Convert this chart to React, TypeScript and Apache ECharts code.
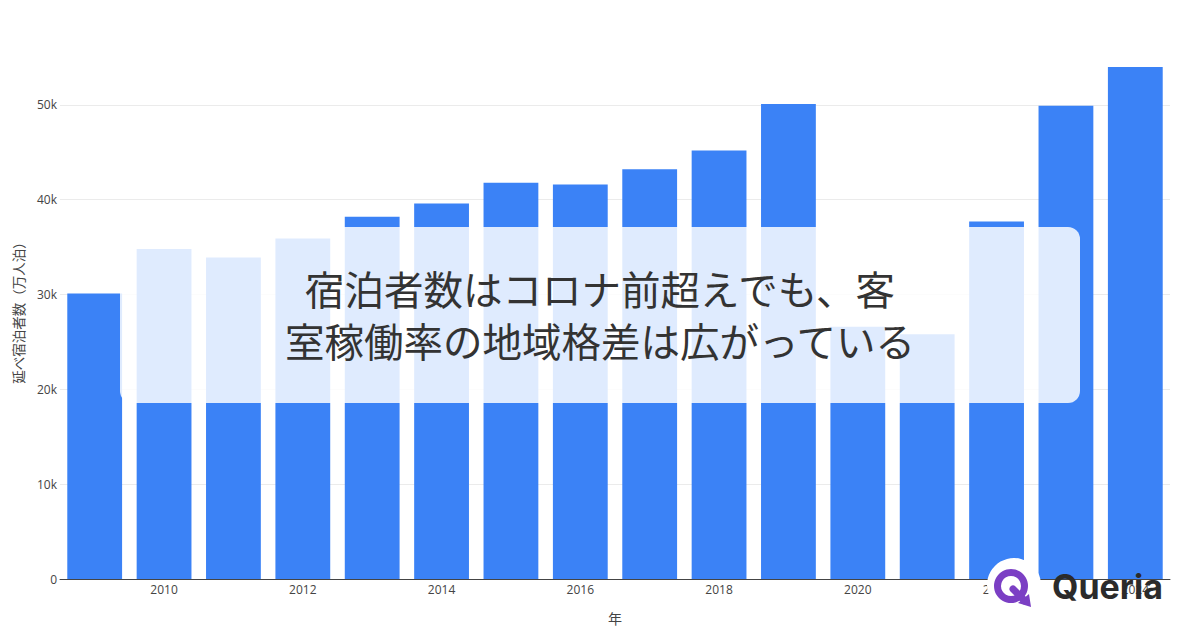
import React, { useEffect, useRef } from "react";
import * as echarts from "echarts";

const years = ["2009","2010","2011","2012","2013","2014","2015","2016","2017","2018","2019","2020","2021","2022","2023","2024"];
const stays = [30100, 34800, 33900, 35900, 38200, 39600, 41800, 41600, 43200, 45200, 50100, 26600, 25800, 37700, 49900, 54000];
const yTicks = [0, 10000, 20000, 30000, 40000, 50000];
const titleLines = ["宿泊者数はコロナ前超えでも、客", "室稼働率の地域格差は広がっている"];
const yName = "延べ宿泊者数（万人泊）";
const xName = "年";
const brand = "Queria";

export default function App() {
  const ref = useRef<HTMLDivElement>(null);
  useEffect(() => {
    if (!ref.current) return;
    const chart = echarts.init(ref.current, null, { renderer: "svg" });
    const yMax = 56842;
    const gridColors = yTicks.map(() => "#ebebeb").concat(["rgba(0,0,0,0)"]);
    chart.setOption({
      animation: false,
      backgroundColor: "#ffffff",
      textStyle: { fontFamily: "'Open Sans', 'Noto Sans CJK JP', sans-serif" },
      grid: { left: 60, right: 30, top: 40, bottom: 50, containLabel: false },
      xAxis: {
        type: "category",
        data: years,
        name: xName,
        nameLocation: "middle",
        nameGap: 32,
        nameTextStyle: { color: "#444", fontSize: 14, fontFamily: "'Noto Sans CJK JP', sans-serif" },
        axisLine: { show: true, lineStyle: { color: "#444", width: 1 } },
        axisTick: { show: false },
        axisLabel: {
          color: "#444",
          fontSize: 12,
          margin: 4,
          interval: (i: number) => i % 2 === 1,
        },
      },
      yAxis: {
        type: "value",
        min: 0,
        max: yMax,
        interval: 10000,
        name: yName,
        nameLocation: "middle",
        nameGap: 35,
        nameTextStyle: { color: "#444", fontSize: 13.5, fontFamily: "'Noto Sans CJK JP', sans-serif" },
        axisLine: { show: false },
        axisTick: { show: false },
        axisLabel: {
          color: "#444",
          fontSize: 12,
          margin: 3,
          showMaxLabel: false,
          formatter: (v: number) => (v % 10000 !== 0 ? "" : v === 0 ? "0" : v / 1000 + "k"),
        },
        splitLine: { show: true, lineStyle: { color: gridColors, width: 1 } },
      },
      series: [
        {
          type: "bar",
          data: stays,
          barCategoryGap: "21%",
          itemStyle: { color: "#3b82f6" },
        },
      ],
      graphic: [
        {
          type: "rect",
          z: 100,
          shape: { x: 120, y: 227, width: 960, height: 176, r: 12 },
          style: { fill: "rgba(255,255,255,0.84)" },
        },
        {
          type: "text",
          z: 101,
          x: 600,
          y: 313,
          style: {
            text: titleLines.join("\n"),
            fill: "#333333",
            font: "400 39.5px 'Noto Sans CJK JP', sans-serif",
            lineHeight: 52,
            align: "center",
            verticalAlign: "middle",
          },
        },
        {
          type: "circle",
          z: 100,
          shape: { cx: 1014, cy: 585, r: 27 },
          style: { fill: "#ffffff" },
        },
        {
          type: "ring",
          z: 101,
          shape: { cx: 1011, cy: 586, r: 17, r0: 10 },
          style: { fill: "#7b3fc4" },
        },
        {
          type: "line",
          z: 101,
          shape: { x1: 1013, y1: 589, x2: 1025, y2: 601 },
          style: { stroke: "#7b3fc4", lineWidth: 7, lineCap: "round" },
        },
        {
          type: "polygon",
          z: 101,
          shape: { points: [[1018, 603], [1031, 607], [1029, 594]] },
          style: { fill: "#7b3fc4" },
        },
        {
          type: "text",
          z: 101,
          x: 1052,
          y: 586,
          style: {
            text: brand,
            fill: "#2b2b2b",
            font: "bold 34px Inter, 'Open Sans', sans-serif",
            verticalAlign: "middle",
            align: "left",
          },
        },
      ],
    });
    return () => chart.dispose();
  }, []);
  return <div ref={ref} style={{ width: 1200, height: 630, position: "absolute", left: 0, top: 0 }} />;
}
